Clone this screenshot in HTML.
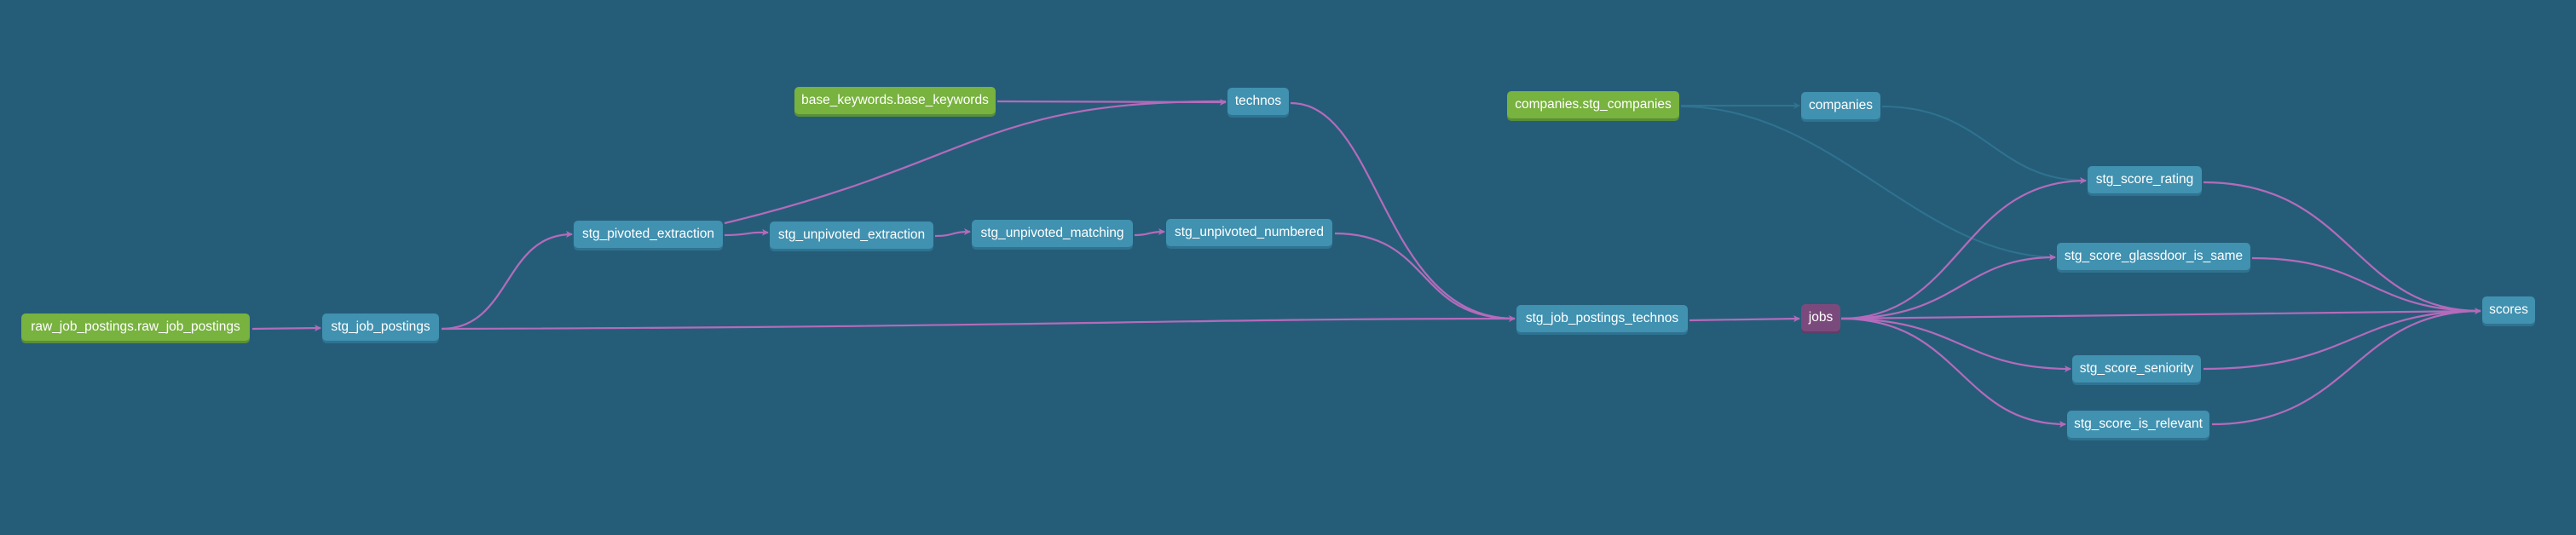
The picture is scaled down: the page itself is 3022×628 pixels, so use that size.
<!DOCTYPE html>
<html><head><meta charset="utf-8"><style>
html,body{margin:0;padding:0;background:#255d78;}
body{width:3022px;height:628px;position:relative;overflow:hidden;font-family:"Liberation Sans",sans-serif;}
.n{position:absolute;height:32px;line-height:32px;border-radius:5px;color:#fff;font-size:15.5px;text-align:center;white-space:nowrap;background:#4191b0;box-shadow:0 3px 0 #2f7391;}
.g{background:#78b23f;box-shadow:0 3px 0 #5a8f38;}
.p{background:#7b4a7c;box-shadow:0 3px 0 #633c67;}
svg{position:absolute;left:0;top:0;}
</style></head><body>
<svg width="3022" height="628" viewBox="0 0 3022 628">
<defs>
<marker id="a" markerWidth="8" markerHeight="8" refX="7" refY="4" orient="auto" markerUnits="userSpaceOnUse"><path d="M0,0 L8,4 L0,8 L2,4 Z" fill="#b46bbb"/></marker>
<marker id="f" markerWidth="8" markerHeight="8" refX="7" refY="4" orient="auto" markerUnits="userSpaceOnUse"><path d="M0,0 L8,4 L0,8 L2,4 Z" fill="#2f7390"/></marker>
</defs>
<g fill="none" stroke="#2f7390" stroke-width="2">
<path d="M1972,124 L2111,124" marker-end="url(#f)"/>
<path d="M1972,125 C2150,125 2250,300 2411,302" marker-end="url(#f)"/>
<path d="M2208,125 C2330,125 2340,212 2447,212" marker-end="url(#f)"/>
</g>
<g fill="none" stroke="#b46bbb" stroke-width="2.2">
<path d="M296,386 L376,385" marker-end="url(#a)"/>
<path d="M518,386 C600,386 590,275 671,275" marker-end="url(#a)"/>
<path d="M518,386 C1200,384 1400,374 1777,374" marker-end="url(#a)"/>
<path d="M850,262 C1150,190 1150,118 1438,119"/>
<path d="M850,276 C880,276 875,272 901,273" marker-end="url(#a)"/>
<path d="M1097,277 C1120,277 1115,272 1138,272" marker-end="url(#a)"/>
<path d="M1331,276 C1350,276 1345,272 1366,272" marker-end="url(#a)"/>
<path d="M1170,119 L1438,120" marker-end="url(#a)"/>
<path d="M1514,121 C1620,121 1620,374 1777,374"/>
<path d="M1566,274 C1680,274 1660,374 1777,374"/>
<path d="M1982,376 L2111,374" marker-end="url(#a)"/>
<path d="M2160,374 C2300,374 2300,212 2447,212" marker-end="url(#a)"/>
<path d="M2160,374 C2300,374 2300,302 2411,302" marker-end="url(#a)"/>
<path d="M2160,374 L2910,365" marker-end="url(#a)"/>
<path d="M2160,374 C2300,374 2300,433 2429,433" marker-end="url(#a)"/>
<path d="M2160,374 C2300,374 2300,498 2423,498" marker-end="url(#a)"/>
<path d="M2585,214 C2760,214 2760,365 2910,365"/>
<path d="M2642,303 C2780,303 2780,365 2910,365"/>
<path d="M2585,433 C2760,433 2760,365 2910,365"/>
<path d="M2595,498 C2760,498 2760,365 2910,365"/>
</g>
</svg>
<div class="n g" style="left:25px;top:368px;width:268px">raw_job_postings.raw_job_postings</div>
<div class="n" style="left:378px;top:368px;width:137px">stg_job_postings</div>
<div class="n" style="left:673px;top:259px;width:175px">stg_pivoted_extraction</div>
<div class="n g" style="left:932px;top:102px;width:236px">base_keywords.base_keywords</div>
<div class="n" style="left:1440px;top:103px;width:72px">technos</div>
<div class="n g" style="left:1768px;top:107px;width:202px">companies.stg_companies</div>
<div class="n" style="left:903px;top:260px;width:192px">stg_unpivoted_extraction</div>
<div class="n" style="left:1140px;top:258px;width:189px">stg_unpivoted_matching</div>
<div class="n" style="left:1368px;top:257px;width:195px">stg_unpivoted_numbered</div>
<div class="n" style="left:1779px;top:358px;width:201px">stg_job_postings_technos</div>
<div class="n" style="left:2113px;top:108px;width:93px">companies</div>
<div class="n" style="left:2449px;top:195px;width:134px">stg_score_rating</div>
<div class="n" style="left:2413px;top:285px;width:227px">stg_score_glassdoor_is_same</div>
<div class="n p" style="left:2113px;top:357px;width:46px">jobs</div>
<div class="n" style="left:2912px;top:348px;width:62px">scores</div>
<div class="n" style="left:2431px;top:417px;width:151px">stg_score_seniority</div>
<div class="n" style="left:2425px;top:482px;width:167px">stg_score_is_relevant</div>
</body></html>
